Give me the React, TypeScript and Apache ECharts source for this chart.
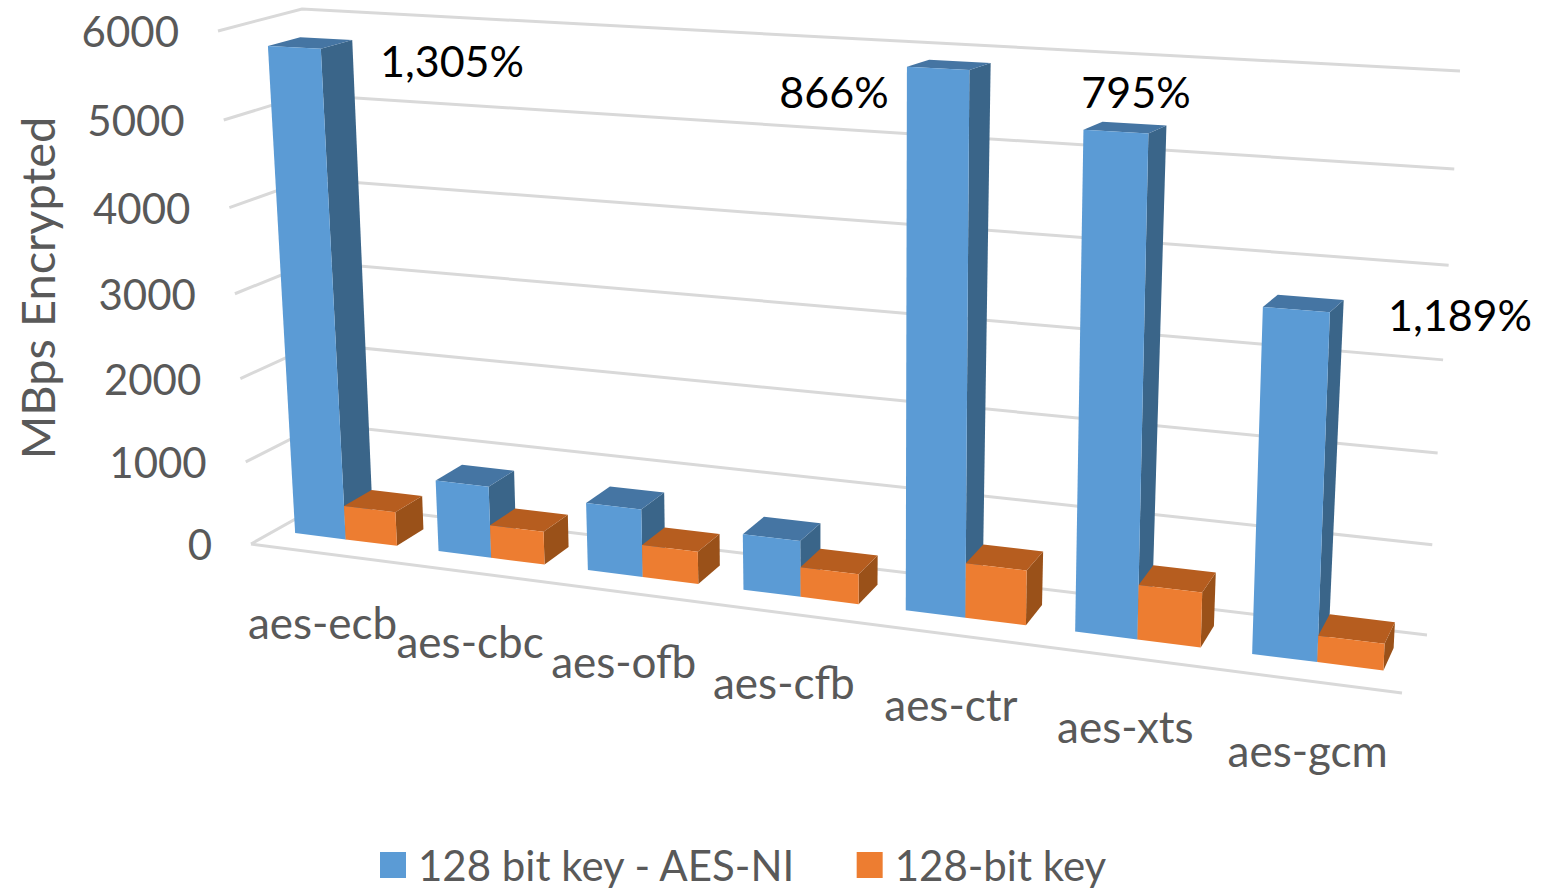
import React, { useEffect, useRef } from "react";
import * as echarts from "echarts";

const categories = ["aes-ecb", "aes-cbc", "aes-ofb", "aes-cfb", "aes-ctr", "aes-xts", "aes-gcm"];
const aesNiValues = [5760, 850, 790, 640, 5880, 5330, 3650];
const softwareValues = [410, 390, 375, 340, 609, 596, 283];
const valueTicks = [0, 1000, 2000, 3000, 4000, 5000, 6000];
const improvementLabels = ["1,305%", "866%", "795%", "1,189%"];
const seriesNames = ["128 bit key - AES-NI", "128-bit key"];

const FONT = "Lato, 'Open Sans', sans-serif";
const TEXT_GREY = "#595959";
const GRID_GREY = "#D9D9D9";
const BLUE = { front: "#5B9BD5", top: "#4575A3", side: "#3A6589" };
const ORANGE = { front: "#ED7D31", top: "#B65D1F", side: "#9A5119" };

// Hidden cartesian box: its axes supply the scales, the box is then warped into the 3D view.
const BOX = { left: 100, top: 100, width: 700, height: 600 };

// Screen corners of the plot cube: front/back, left/right, bottom/top.
const CUBE = {
  flb: [251, 544], flt: [218, 31],
  blb: [324, 503], blt: [302, 9],
  frb: [1402, 693], frt: [1424, 85],
  brb: [1427, 635], brt: [1460, 71],
};
const PERSPECTIVE_X = 0.16;
const PERSPECTIVE_Y = 0.05;
const BAR_DEPTH_FRONT = 0.33;
const BAR_DEPTH_BACK = 0.72;
const CLUSTER_SHARE = 0.714;

const mix = (a: number[], b: number[], t: number) => [a[0] + (b[0] - a[0]) * t, a[1] + (b[1] - a[1]) * t];

// Takes a point of the flat box (pixels) plus a depth 0..1 and gives its place in the 3D view.
function project(px: number, py: number, z: number) {
  const rawU = (px - BOX.left) / BOX.width;
  const rawV = (BOX.top + BOX.height - py) / BOX.height;
  const u = rawU / (1 + PERSPECTIVE_X * (1 - rawU));
  const v = rawV / (1 + PERSPECTIVE_Y * (1 - rawV));
  const front = mix(mix(CUBE.flb, CUBE.frb, u), mix(CUBE.flt, CUBE.frt, u), v);
  const back = mix(mix(CUBE.blb, CUBE.brb, u), mix(CUBE.blt, CUBE.brt, u), v);
  return mix(front, back, z);
}

function barRenderer(colors: typeof BLUE, side: number) {
  return (_params: any, api: any) => {
    const base = api.coord([api.value(0), 0]);
    const head = api.coord([api.value(0), api.value(1)]);
    const barWidth = (api.size([1, 0])[0] * CLUSTER_SHARE) / 2;
    const x0 = base[0] + (side < 0 ? -barWidth : 0);
    const x1 = x0 + barWidth;
    const zf = BAR_DEPTH_FRONT;
    const zb = BAR_DEPTH_BACK;
    const poly = (points: number[][], fill: string) => ({ type: "polygon", shape: { points }, style: { fill } });
    return {
      type: "group",
      children: [
        poly([project(x1, base[1], zf), project(x1, base[1], zb), project(x1, head[1], zb), project(x1, head[1], zf)], colors.side),
        poly([project(x0, head[1], zf), project(x1, head[1], zf), project(x1, head[1], zb), project(x0, head[1], zb)], colors.top),
        poly([project(x0, base[1], zf), project(x1, base[1], zf), project(x1, head[1], zf), project(x0, head[1], zf)], colors.front),
      ],
    };
  };
}

function gridLineRenderer(_params: any, api: any) {
  const tick = api.value(1);
  const left = api.coord([0, tick])[0] - api.size([1, 0])[0] / 2;
  const right = left + BOX.width;
  const y = api.coord([0, tick])[1];
  const a = project(left, y, 0);
  const points = [a, project(left, y, 1), project(right, y, 1)];
  const children: any[] = [
    { type: "polyline", shape: { points }, style: { stroke: GRID_GREY, lineWidth: 3, fill: "none" } },
    {
      type: "text",
      style: {
        x: a[0] - 39,
        y: a[1],
        text: String(tick),
        font: `42px ${FONT}`,
        fill: TEXT_GREY,
        textAlign: "right",
        textVerticalAlign: "middle",
      },
    },
  ];
  if (tick === 0) {
    children.push({
      type: "polyline",
      shape: { points: [a, project(right, y, 0)] },
      style: { stroke: GRID_GREY, lineWidth: 3, fill: "none" },
    });
  }
  return { type: "group", children };
}

function categoryLabelRenderer(_params: any, api: any) {
  const index = api.value(0);
  const c = api.coord([index, 0]);
  const p = project(c[0], c[1], 0);
  return {
    type: "text",
    style: {
      x: p[0],
      y: p[1] + 69,
      text: categories[index],
      font: `44px ${FONT}`,
      fill: TEXT_GREY,
      textAlign: "center",
      textVerticalAlign: "middle",
    },
  };
}

const annotation = (text: string, x: number, y: number) => ({
  type: "text",
  style: { x, y, text, font: `43px ${FONT}`, fill: "#000000", textAlign: "center", textVerticalAlign: "middle" },
});

export default function App() {
  const ref = useRef<HTMLDivElement>(null);

  useEffect(() => {
    const chart = echarts.init(ref.current!, undefined, { renderer: "svg" });
    chart.setOption({
      animation: false,
      backgroundColor: "#ffffff",
      grid: { ...BOX, show: false },
      xAxis: { type: "category", data: categories, show: false },
      yAxis: { type: "value", min: 0, max: 6000, interval: 1000, show: false },
      legend: {
        data: seriesNames,
        left: 380,
        top: 844,
        padding: 0,
        icon: "rect",
        itemWidth: 26,
        itemHeight: 26,
        itemGap: 60,
        textStyle: { fontFamily: FONT, fontSize: 42, lineHeight: 38, color: TEXT_GREY, padding: [0, 0, 0, 7] },
      },
      series: [
        {
          type: "custom",
          name: "gridlines",
          data: valueTicks.map((t) => [0, t]),
          encode: { x: 0, y: 1 },
          renderItem: gridLineRenderer,
          silent: true,
        },
        {
          type: "custom",
          name: "categories",
          data: categories.map((_c, i) => [i, 0]),
          encode: { x: 0, y: 1 },
          renderItem: categoryLabelRenderer,
          silent: true,
        },
        {
          type: "custom",
          name: seriesNames[0],
          data: aesNiValues.map((v, i) => [i, v]),
          encode: { x: 0, y: 1 },
          itemStyle: { color: BLUE.front },
          renderItem: barRenderer(BLUE, -1),
        },
        {
          type: "custom",
          name: seriesNames[1],
          data: softwareValues.map((v, i) => [i, v]),
          encode: { x: 0, y: 1 },
          itemStyle: { color: ORANGE.front },
          renderItem: barRenderer(ORANGE, 1),
        },
      ],
      graphic: [
        annotation(improvementLabels[0], 452, 60),
        annotation(improvementLabels[1], 834, 91),
        annotation(improvementLabels[2], 1136, 91),
        annotation(improvementLabels[3], 1460, 314),
        {
          type: "text",
          x: 37,
          y: 288,
          rotation: Math.PI / 2,
          style: {
            x: 0,
            y: 0,
            text: "MBps Encrypted",
            font: `47px ${FONT}`,
            fill: TEXT_GREY,
            textAlign: "center",
            textVerticalAlign: "middle",
          },
        },
      ],
    });
    return () => chart.dispose();
  }, []);

  return <div ref={ref} style={{ position: "fixed", left: 0, top: 0, width: 1548, height: 891 }} />;
}
